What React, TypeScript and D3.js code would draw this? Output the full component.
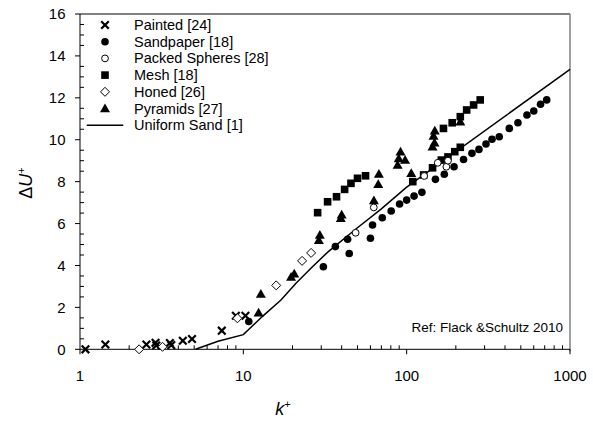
import React from "react";
import * as d3 from "d3";

const painted: [number, number][] = [[1.08,0],[1.43,0.23],[2.55,0.23],[2.9,0.31],[2.93,0.18],[3.55,0.3],[3.62,0.2],[4.26,0.41],[4.85,0.49],[7.38,0.89],[9.0,1.6],[10.3,1.6]];
const sandpaper: [number, number][] = [[10.8,1.33],[30.9,3.94],[36.6,4.9],[43.5,5.25],[44.5,4.57],[60,5.3],[61.8,5.93],[70.9,6.28],[80.4,6.6],[90.5,6.93],[100,7.12],[111,7.31],[124,7.49],[150,8.11],[170,8.35],[195,8.71],[223,9.06],[251,9.35],[277,9.54],[306,9.8],[333,10.02],[369,10.14],[425,10.54],[480,10.81],[545,11.18],[600,11.37],[660,11.69],[720,11.9]];
const packedSpheres: [number, number][] = [[48.7,5.56],[62.9,6.77],[128,8.27],[155,8.9],[175,8.71],[179,9.0]];
const mesh: [number, number][] = [[28.5,6.52],[32.8,7.04],[37.2,7.28],[41.7,7.63],[45.6,7.92],[50,8.16],[56,8.28],[109,8.0],[127,8.32],[144,8.66],[163,9.03],[179,9.18],[197,9.43],[213,9.64],[168,10.54],[190,10.81],[213,11.1],[233,11.42],[257,11.66],[282,11.9]];
const honed: [number, number][] = [[2.3,0],[3.2,0.12],[9.2,1.48],[15.9,3.05],[22.9,4.22],[26,4.6]];
const pyramids: [number, number][] = [[12.4,1.75],[12.8,2.64],[19.6,3.45],[20.5,3.6],[29,5.2],[29.4,5.45],[39.5,6.25],[40,6.42],[63,7.1],[67,7.88],[67.6,8.36],[88,8.8],[89.4,9.1],[91.7,9.43],[97.8,9.03],[106.7,8.4],[144,9.67],[148,9.86],[146,10.18],[148.6,10.43],[213,10.86]];
const uniformSand: [number, number][] = [[5.1,0],[7,0.38],[10,0.7],[13,1.55],[17,2.35],[21,3.15],[26.5,3.94],[33,4.65],[50,5.8],[70,6.7],[100,7.74],[1000,13.36]];

const xTicks = [1, 10, 100, 1000];
const yTicks = [0, 2, 4, 6, 8, 10, 12, 14, 16];
const legendLabels = ["Painted [24]", "Sandpaper [18]", "Packed Spheres [28]", "Mesh [18]", "Honed [26]", "Pyramids [27]", "Uniform Sand [1]"];
const refText = "Ref: Flack &Schultz 2010";

const W = 593, H = 425;
const left = 80, right = 570, top = 14, bottom = 349.3;

const FONT = "'Liberation Sans', Arial, sans-serif";

function Marker({ type, x, y }: { type: string; x: number; y: number }) {
  switch (type) {
    case "x": {
      const s = 3.8;
      return (
        <g stroke="#000" strokeWidth={2.2}>
          <line x1={x - s} y1={y - s} x2={x + s} y2={y + s} />
          <line x1={x - s} y1={y + s} x2={x + s} y2={y - s} />
        </g>
      );
    }
    case "dot":
      return <circle cx={x} cy={y} r={3.8} fill="#000" />;
    case "ring":
      return <circle cx={x} cy={y} r={3.4} fill="#fff" stroke="#000" strokeWidth={1} />;
    case "square":
      return <rect x={x - 3.8} y={y - 3.8} width={7.6} height={7.6} fill="#000" />;
    case "diamond": {
      const s = 4.5;
      return <path d={`M${x},${y - s}L${x + s},${y}L${x},${y + s}L${x - s},${y}Z`} fill="#fff" stroke="#000" strokeWidth={1} />;
    }
    case "tri": {
      const s = 5;
      return <path d={`M${x},${y - s}L${x + s},${y + s * 0.75}L${x - s},${y + s * 0.75}Z`} fill="#000" />;
    }
  }
  return null;
}

export default function App() {
  const x = d3.scaleLog().domain([1, 1000]).range([left, right]);
  const y = d3.scaleLinear().domain([0, 16]).range([bottom, top]);

  const minorX: number[] = [];
  for (let d = 1; d < 1000; d *= 10) for (let m = 2; m <= 9; m++) minorX.push(d * m);
  const minorY: number[] = d3.range(0, 16.01, 0.5).filter((v) => v % 2 !== 0);

  const line = d3.line<[number, number]>().x((d) => x(d[0])).y((d) => y(d[1]));

  const series: { data: [number, number][]; type: string }[] = [
    { data: painted, type: "x" },
    { data: honed, type: "diamond" },
    { data: pyramids, type: "tri" },
    { data: mesh, type: "square" },
    { data: sandpaper, type: "dot" },
    { data: packedSpheres, type: "ring" },
  ];

  const legendTypes = ["x", "dot", "ring", "square", "diamond", "tri", "line"];
  const legendY0 = 25, legendDy = 16.7;

  return (
    <svg width={W} height={H} style={{ position: "absolute", left: 0, top: 0 }} fontFamily={FONT}>
      <rect width={W} height={H} fill="#fff" />
      <line x1={left} y1={top} x2={right} y2={top} stroke="#000" strokeWidth={1} />
      <line x1={right} y1={top} x2={right} y2={bottom + 2} stroke="#808080" strokeWidth={1.5} />
      <line x1={left} y1={top} x2={left} y2={bottom} stroke="#000" strokeWidth={1} />
      <line x1={left} y1={bottom} x2={right} y2={bottom} stroke="#000" strokeWidth={1} />
      {yTicks.map((t) => (
        <g key={"y" + t}>
          <line x1={left - 5} x2={left} y1={y(t)} y2={y(t)} stroke="#000" />
          <text x={65.5} y={y(t)} dy="0.35em" textAnchor="end" fontSize={15}>{t}</text>
        </g>
      ))}
      {minorY.map((t) => (
        <line key={"my" + t} x1={left} x2={left + 4} y1={y(t)} y2={y(t)} stroke="#000" />
      ))}
      {xTicks.map((t) => (
        <g key={"x" + t}>
          <line x1={x(t)} x2={x(t)} y1={bottom} y2={bottom + 5} stroke="#000" />
          <text x={x(t)} y={380.5} textAnchor="middle" fontSize={15}>{t}</text>
        </g>
      ))}
      {minorX.map((t) => (
        <line key={"mx" + t} x1={x(t)} x2={x(t)} y1={bottom} y2={bottom - 4} stroke="#000" />
      ))}
      <text x={283} y={415} textAnchor="middle" fontSize={18} fontStyle="italic">
        k<tspan dy={-7} fontSize={11} fontStyle="normal">+</tspan>
      </text>
      <text transform={`translate(32,183) rotate(-90)`} textAnchor="middle" fontSize={18}>
        Δ<tspan fontStyle="italic">U</tspan><tspan dy={-7} fontSize={11}>+</tspan>
      </text>
      <path d={line(uniformSand) || ""} fill="none" stroke="#000" strokeWidth={1.5} />
      {series.map((s, i) => (
        <g key={i}>
          {s.data.map((d, j) => (
            <Marker key={j} type={s.type} x={x(d[0])} y={y(d[1])} />
          ))}
        </g>
      ))}
      {legendLabels.map((lab, i) => {
        const ly = legendY0 + i * legendDy;
        return (
          <g key={lab}>
            {legendTypes[i] === "line" ? (
              <line x1={86.7} x2={123.3} y1={ly} y2={ly} stroke="#000" strokeWidth={1.5} />
            ) : (
              <Marker type={legendTypes[i]} x={105} y={ly} />
            )}
            <text x={134} y={ly} dy="0.35em" fontSize={14.5}>{lab}</text>
          </g>
        );
      })}
      <text x={563} y={327} dy="0.35em" textAnchor="end" fontSize={13.5}>{refText}</text>
    </svg>
  );
}
